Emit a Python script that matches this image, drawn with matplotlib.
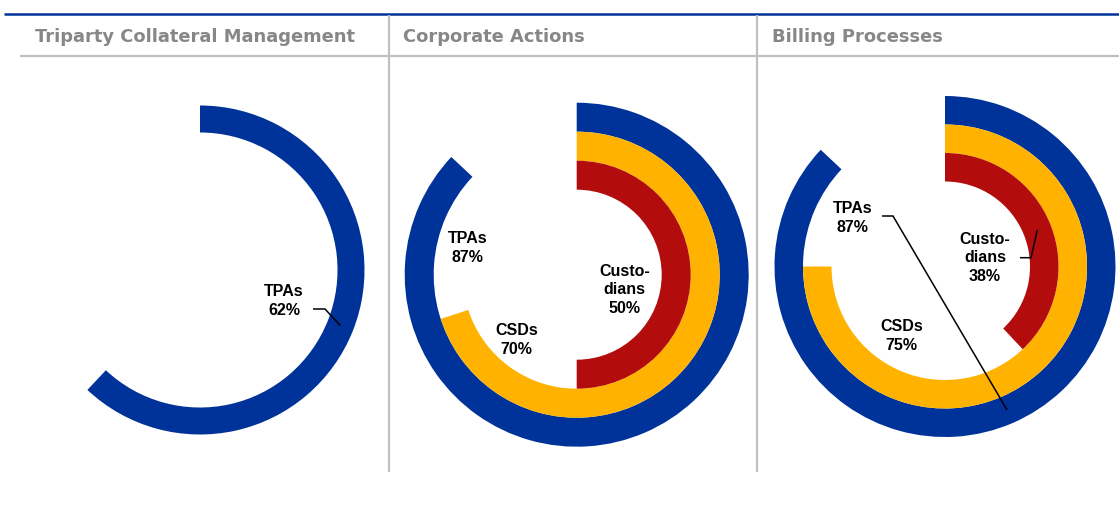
import matplotlib
matplotlib.use("Agg")
import matplotlib.pyplot as plt
import math

# ---- data ----
panel_titles = ["Triparty Collateral Management", "Corporate Actions", "Billing Processes"]
series_names = ["TPAs", "CSDs", "Custo-\ndians"]
tpa_values = [62, 87, 87]
csd_values = [None, 70, 75]
custodian_values = [None, 50, 38]

# ---- style / layout ----
W, H = 1119, 519
BLUE = "#003399"
YELLOW = "#FFB300"
RED = "#B20C0C"
GRAY_LINE = "#C0C0C0"
GRAY_TEXT = "#878787"
series_colors = [BLUE, YELLOW, RED]

plt.rcParams['font.family'] = ['Liberation Sans', 'DejaVu Sans']

fig = plt.figure(figsize=(W / 100, H / 100), dpi=100)
ax = fig.add_axes([0, 0, 1, 1])

def Y(py):
    return H - py

# panel geometry (pixel units): center x, center y, outer radius, ring width
geom = [
    (200.0, 270.0, 164.5, 27.0),
    (576.7, 274.7, 172.0, 29.0),
    (945.0, 266.5, 170.5, 28.5),
]

all_series = [tpa_values, csd_values, custodian_values]

for p in range(3):
    cx, cy, R, w = geom[p]
    for s, vals in enumerate(all_series):
        v = vals[p]
        if v is None:
            continue
        r = R - s * w
        ax.pie([v, 100 - v], radius=r, center=(cx, Y(cy)), startangle=90,
               counterclock=False, colors=[series_colors[s], "none"],
               wedgeprops=dict(width=w, linewidth=0, edgecolor="none"))

ax.set_xlim(0, W)
ax.set_ylim(0, H)
ax.set_aspect('equal')
ax.axis('off')

# ---- labels ----
LABEL_FS = 11.5
LS = 1.3

def label(x, y, name, val):
    ax.text(x, Y(y), f"{name}\n{val}%", ha="center", va="center",
            fontsize=LABEL_FS, fontweight="bold", color="black",
            linespacing=LS, multialignment="center")

def ring_mid(p, s):
    cx, cy, R, w = geom[p]
    v = all_series[s][p]
    ang = math.radians(90 - v / 100 * 360 / 2)
    rm = R - s * w - w / 2
    return cx + rm * math.cos(ang), Y(cy) + rm * math.sin(ang)

def leader(p, s, x0, x1, y):
    tx, ty = ring_mid(p, s)
    ax.plot([x0, x1, tx], [Y(y), Y(y), ty], color="black", lw=1.1,
            solid_capstyle="butt", solid_joinstyle="miter")

# panel 1
label(284, 301, series_names[0], tpa_values[0])
leader(0, 0, 313, 325, 309)
# panel 2
label(467.7, 248, series_names[0], tpa_values[1])
label(516.7, 340, series_names[1], csd_values[1])
label(624.3, 290, series_names[2], custodian_values[1])
# panel 3
label(852.7, 218, series_names[0], tpa_values[2])
leader(2, 0, 882, 893, 216)
label(985, 258, series_names[2], custodian_values[2])
leader(2, 2, 1020, 1031, 257.7)
label(901.7, 336, series_names[1], csd_values[2])

# ---- frame lines & headers ----
ax.plot([4, W], [Y(13.5), Y(13.5)], color=BLUE, lw=1.8, solid_capstyle="butt")
ax.plot([20, W], [Y(55.7), Y(55.7)], color=GRAY_LINE, lw=1.6, solid_capstyle="butt")
for vx in (389, 757):
    ax.plot([vx, vx], [Y(15), Y(472)], color=GRAY_LINE, lw=1.6, solid_capstyle="butt")

header_x = [35, 403, 772]
for hx, t in zip(header_x, panel_titles):
    ax.text(hx, Y(41.5), t, ha="left", va="baseline", fontsize=12.9,
            fontweight="bold", color=GRAY_TEXT, family="DejaVu Sans")

fig.savefig("out.png", dpi=100)
